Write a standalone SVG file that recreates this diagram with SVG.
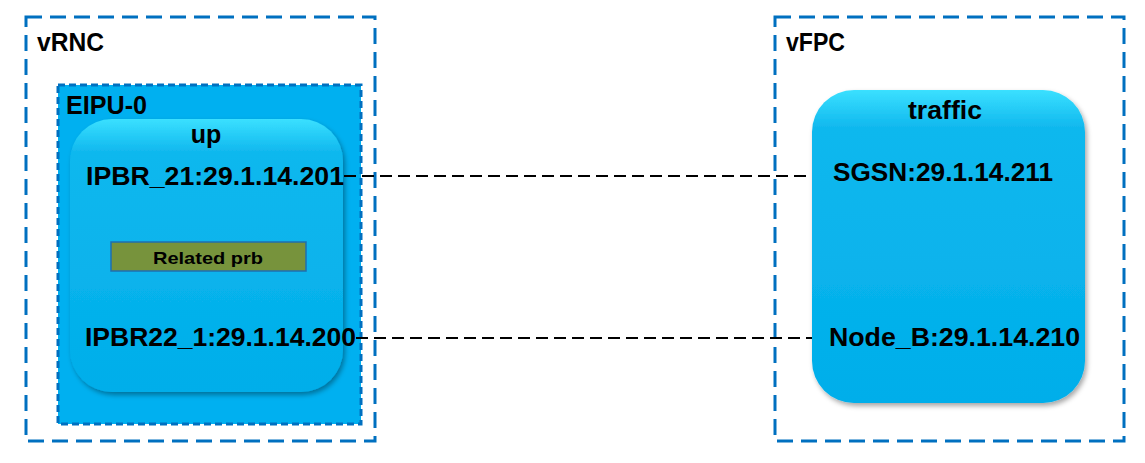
<svg xmlns="http://www.w3.org/2000/svg" width="1145" height="463" viewBox="0 0 1145 463">
<style>
.t{font-family:"Liberation Sans",Arial,sans-serif;font-weight:bold;fill:#000}
.outer{fill:none;stroke:#0070C0;stroke-width:3;stroke-dasharray:16 8}
.conn{fill:none;stroke:#000;stroke-width:2;stroke-dasharray:12 6}
</style>
<defs>
<linearGradient id="g" x1="0" y1="0" x2="0" y2="1">
<stop offset="0" stop-color="#3BE0FF"/>
<stop offset="0.12" stop-color="#10B8EE"/>
<stop offset="1" stop-color="#00AEEA"/>
</linearGradient>
<filter id="sh" x="-10%" y="-10%" width="120%" height="120%">
<feDropShadow dx="2" dy="3" stdDeviation="2.5" flood-color="#000" flood-opacity="0.35"/>
</filter>
</defs>
<g id="vRNC">
<rect class="outer" x="26" y="17" width="349" height="424"/>
<text class="t" x="37" y="51" font-size="25" textLength="67" lengthAdjust="spacingAndGlyphs">vRNC</text>
</g>
<g id="vFPC">
<rect class="outer" x="775" y="17" width="349" height="424"/>
<text class="t" x="786" y="51" font-size="25" textLength="59" lengthAdjust="spacingAndGlyphs">vFPC</text>
</g>
<g id="EIPU-0">
<rect x="58" y="85" width="303" height="339" fill="#00B0F0" stroke="#0070C0" stroke-width="3" stroke-dasharray="7 4"/>
<text class="t" x="66" y="114" font-size="25" textLength="81" lengthAdjust="spacingAndGlyphs">EIPU-0</text>
</g>
<g id="up">
<rect x="70" y="119" width="273" height="273" rx="42" fill="url(#g)" filter="url(#sh)"/>
<text class="t" x="206" y="143" font-size="25" text-anchor="middle">up</text>
<text class="t" x="86" y="185" font-size="25" textLength="258" lengthAdjust="spacingAndGlyphs">IPBR_21:29.1.14.201</text>
<text class="t" x="85" y="346" font-size="25" textLength="271" lengthAdjust="spacingAndGlyphs">IPBR22_1:29.1.14.200</text>
</g>
<g id="related-prb">
<rect x="111" y="242" width="195" height="29" fill="#77933C" stroke="#1F6FAE" stroke-width="1.5"/>
<text class="t" x="208" y="264" font-size="17" text-anchor="middle" textLength="110" lengthAdjust="spacingAndGlyphs">Related prb</text>
</g>
<g id="traffic">
<rect x="812" y="90" width="273" height="313" rx="42" fill="url(#g)" filter="url(#sh)"/>
<text class="t" x="945" y="119" font-size="25" text-anchor="middle" textLength="74" lengthAdjust="spacingAndGlyphs">traffic</text>
<text class="t" x="833" y="181" font-size="25" textLength="220" lengthAdjust="spacingAndGlyphs">SGSN:29.1.14.211</text>
<text class="t" x="829" y="346" font-size="25" textLength="251" lengthAdjust="spacingAndGlyphs">Node_B:29.1.14.210</text>
</g>
<g id="connectors">
<line class="conn" x1="344" y1="176" x2="812" y2="176"/>
<line class="conn" x1="356" y1="338" x2="812" y2="338"/>
</g>
</svg>
